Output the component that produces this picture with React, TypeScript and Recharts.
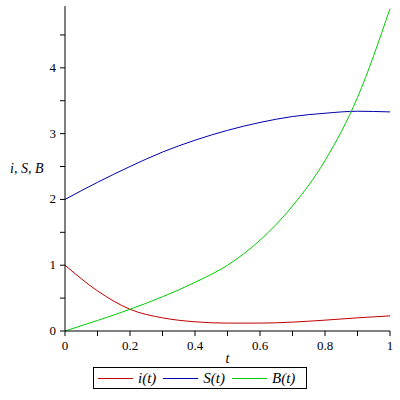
import React from 'react';
import { LineChart, Line, XAxis, YAxis, Legend } from 'recharts';

const tValues = [0, 0.1, 0.2, 0.3, 0.4, 0.5, 0.6, 0.7, 0.8, 0.9, 1.0];
const iValues = [1.0, 0.61, 0.33, 0.2, 0.14, 0.12, 0.12, 0.135, 0.165, 0.2, 0.23];
const sValues = [2.0, 2.26, 2.5, 2.72, 2.9, 3.05, 3.17, 3.26, 3.31, 3.34, 3.33];
const bValues = [0, 0.16, 0.33, 0.52, 0.74, 1.0, 1.38, 1.9, 2.59, 3.55, 4.9];

const xTicks = [0, 0.1, 0.2, 0.3, 0.4, 0.5, 0.6, 0.7, 0.8, 0.9, 1];
const yTicks = [0, 0.5, 1, 1.5, 2, 2.5, 3, 3.5, 4, 4.5];

const series = [
  { key: 'i', name: 'i(t)', color: '#c00000' },
  { key: 'S', name: 'S(t)', color: '#0000a8' },
  { key: 'B', name: 'B(t)', color: '#00cc00' },
];

const data = tValues.map((t, idx) => ({
  t,
  i: iValues[idx],
  S: sValues[idx],
  B: bValues[idx],
}));

const serif = '"Times New Roman", "Liberation Serif", serif';

// only every other tick gets a label, like the original plot
const XTick = (props: any) => {
  const { x, y, payload } = props;
  const tenths = Math.round(payload.value * 10);
  if (tenths % 2 !== 0) return null;
  return (
    <text x={x} y={y + 12} textAnchor="middle" fill="#000" fontSize={13} fontFamily={serif}>
      {String(tenths / 10)}
    </text>
  );
};

const YTick = (props: any) => {
  const { x, y, payload } = props;
  if (!Number.isInteger(payload.value)) return null;
  return (
    <text x={x - 2} y={y + 4} textAnchor="end" fill="#000" fontSize={13} fontFamily={serif}>
      {String(payload.value)}
    </text>
  );
};

const LegendBox = () => (
  <div
    style={{
      display: 'flex',
      alignItems: 'center',
      border: '1px solid #000',
      height: 20,
      padding: '0 4px',
      fontFamily: serif,
      fontStyle: 'italic',
      fontSize: 15,
      background: '#fff',
      whiteSpace: 'nowrap',
    }}
  >
    {series.map((s) => (
      <span key={s.key} style={{ display: 'flex', alignItems: 'center', marginRight: 7 }}>
        <span style={{ display: 'inline-block', width: 35, height: 1, background: s.color, marginRight: 5 }} />
        {s.name}
      </span>
    ))}
  </div>
);

const App: React.FC = () => {
  return (
    <div style={{ position: 'absolute', left: 0, top: 0, width: 400, height: 400, background: '#fff', fontFamily: serif }}>
      <LineChart width={400} height={400} data={data} margin={{ top: 6, right: 10, left: 0, bottom: 35 }}>
        <XAxis
          dataKey="t"
          type="number"
          domain={[0, 1]}
          ticks={xTicks}
          axisLine={{ stroke: '#000' }}
          tickLine={{ stroke: '#000' }}
          tickSize={5}
          tick={<XTick />}
          height={34}
          label={{ value: 't', position: 'insideBottom', offset: 2, fill: '#000', fontSize: 14, fontStyle: 'italic', fontFamily: serif }}
        />
        <YAxis
          type="number"
          domain={[0, 4.94]}
          ticks={yTicks}
          axisLine={{ stroke: '#000' }}
          tickLine={{ stroke: '#000' }}
          tickSize={5}
          width={65}
          tick={<YTick />}
          label={{ value: 'i, S, B', position: 'insideLeft', offset: 10, fill: '#000', fontSize: 14, fontStyle: 'italic', fontFamily: serif }}
        />
        {series.map((s) => (
          <Line
            key={s.key}
            dataKey={s.key}
            name={s.name}
            type="monotone"
            stroke={s.color}
            strokeWidth={1}
            dot={false}
            isAnimationActive={false}
          />
        ))}
        <Legend
          layout="horizontal"
          verticalAlign="middle"
          align="center"
          content={<LegendBox />}
          wrapperStyle={{ left: 93, top: 367, width: 'auto', height: 'auto' }}
        />
      </LineChart>
    </div>
  );
};

export default App;
